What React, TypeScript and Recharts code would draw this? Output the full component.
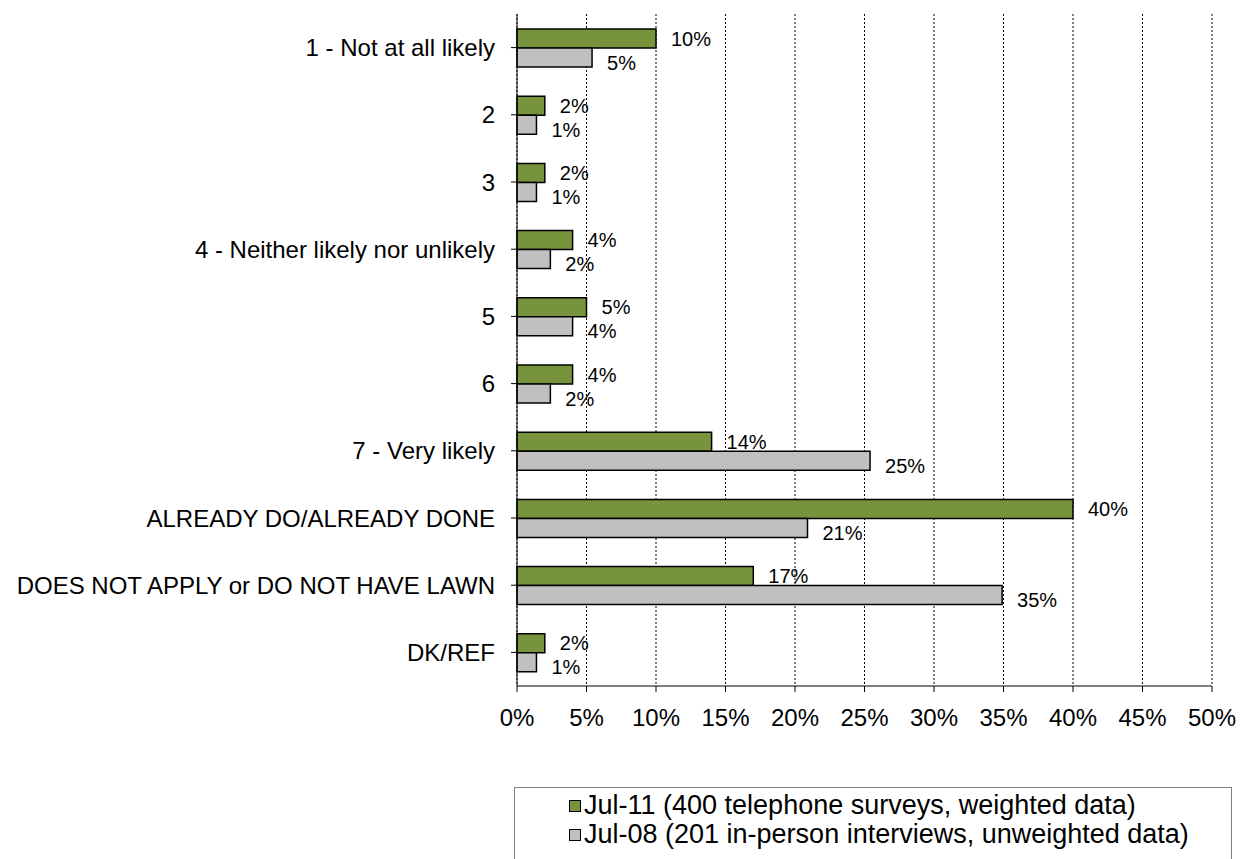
import React from 'react'
import { BarChart, Bar, XAxis, YAxis, CartesianGrid, LabelList } from 'recharts'

const categories = [
  '1 - Not at all likely',
  '2',
  '3',
  '4 - Neither likely nor unlikely',
  '5',
  '6',
  '7 - Very likely',
  'ALREADY DO/ALREADY DONE',
  'DOES NOT APPLY or DO NOT HAVE LAWN',
  'DK/REF',
]
const jul11 = [10, 2, 2, 4, 5, 4, 14, 40, 17, 2]
const jul08 = [5.4, 1.4, 1.4, 2.4, 4, 2.4, 25.4, 20.9, 34.9, 1.4]
const xTicks = [0, 5, 10, 15, 20, 25, 30, 35, 40, 45, 50]
const seriesNames = [
  'Jul-11 (400 telephone surveys, weighted data)',
  'Jul-08 (201 in-person interviews, unweighted data)',
]
const colors = ['#77933C', '#C0C0C0']

const data = categories.map((c, i) => ({ name: c, jul11: jul11[i], jul08: jul08[i] }))

const font = 'Liberation Sans, Arial, sans-serif'

function makeLabel(dy: number) {
  return (props: any) => {
    const { x, y, width, height, value } = props
    return (
      <text
        x={x + width + 15}
        y={y + height / 2 + dy}
        dominantBaseline="central"
        fontSize={20}
        fontFamily={font}
        fill="#000"
      >
        {Math.round(value)}%
      </text>
    )
  }
}

function LegendBox() {
  return (
    <div
      style={{
        position: 'absolute',
        left: 514,
        top: 787,
        width: 718,
        height: 100,
        border: '1.5px solid #808080',
        boxSizing: 'border-box',
        fontFamily: font,
        fontSize: 27,
        paddingLeft: 54,
        paddingTop: 3,
      }}
    >
      {seriesNames.map((n, i) => (
        <div key={n} style={{ display: 'flex', alignItems: 'center', height: 29, whiteSpace: 'nowrap' }}>
          <span
            style={{
              display: 'inline-block',
              width: 10,
              height: 10,
              background: colors[i],
              border: '1.5px solid #000',
              marginRight: 3,
              flex: 'none',
            }}
          />
          {n}
        </div>
      ))}
    </div>
  )
}

export default function App() {
  return (
    <div style={{ position: 'absolute', left: 0, top: 0, width: 1248, height: 859, background: '#fff', overflow: 'hidden' }}>
      <BarChart
        width={1248}
        height={859}
        data={data}
        layout="vertical"
        margin={{ top: 14, right: 36, left: 0, bottom: 133 }}
        barSize={19}
        barGap={0}
      >
        <CartesianGrid horizontal={false} stroke="#000" strokeDasharray="2 2" />
        <XAxis
          type="number"
          domain={[0, 50]}
          ticks={xTicks}
          tickFormatter={(v) => `${v}%`}
          stroke="#000"
          tick={{ fill: '#000', fontSize: 24, fontFamily: font }}
          tickSize={6}
          tickMargin={17}
          height={40}
          interval={0}
        />
        <XAxis
          xAxisId="top"
          orientation="top"
          type="number"
          domain={[0, 50]}
          tick={false}
          tickLine={false}
          axisLine={{ stroke: '#808080', strokeWidth: 2 }}
          height={0}
        />
        <YAxis
          type="category"
          dataKey="name"
          width={517}
          stroke="#000"
          tick={{ fill: '#000', fontSize: 24, fontFamily: font }}
          tickSize={6}
          tickMargin={16}
          interval={0}
        />
        <YAxis
          yAxisId="right"
          orientation="right"
          type="category"
          dataKey="name"
          tick={false}
          tickLine={false}
          axisLine={{ stroke: '#808080', strokeWidth: 2 }}
          width={0}
        />
        <Bar dataKey="jul11" fill={colors[0]} stroke="#000" strokeWidth={1.5} isAnimationActive={false}>
          <LabelList dataKey="jul11" content={makeLabel(0)} />
        </Bar>
        <Bar dataKey="jul08" fill={colors[1]} stroke="#000" strokeWidth={1.5} isAnimationActive={false}>
          <LabelList dataKey="jul08" content={makeLabel(5)} />
        </Bar>
      </BarChart>
      <LegendBox />
    </div>
  )
}
